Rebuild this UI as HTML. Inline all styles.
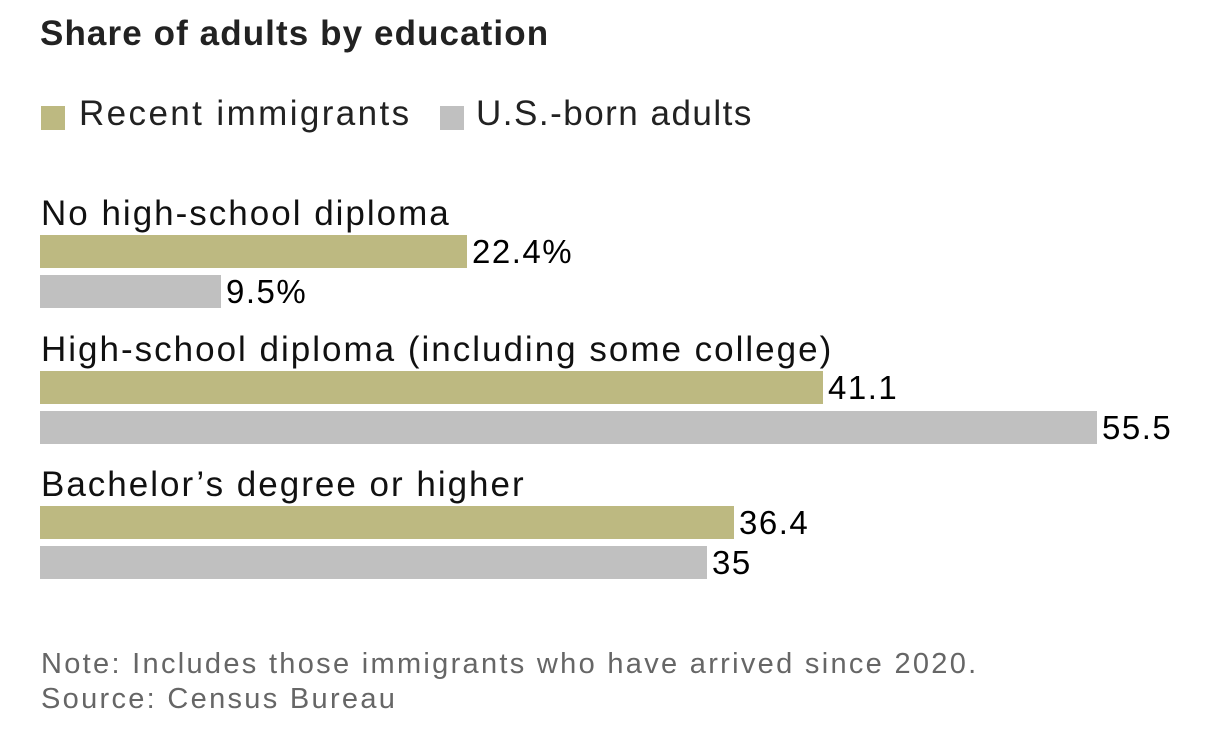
<!DOCTYPE html>
<html><head><meta charset="utf-8"><style>
body{margin:0;width:1210px;height:733px;background:#fff;font-family:"Liberation Sans",sans-serif;position:relative;overflow:hidden}
.a{position:absolute;white-space:nowrap}
.t{left:40px;top:14px;font-size:35px;font-weight:bold;color:#222;letter-spacing:1.1px}
.l{font-size:35px;color:#222;top:94px;letter-spacing:2.4px}
.sw{position:absolute;width:24px;height:24px;top:106px}
.c{font-size:35px;color:#111;left:41px;letter-spacing:2px}
.b{position:absolute;left:40px;height:33px}
.o{background:#bdb981}.g{background:#c0c0c0}
.v{font-size:33px;color:#000;letter-spacing:1.5px}
.n{font-size:29px;color:#666;left:41px;letter-spacing:2.3px}
</style></head><body>
<div class="a t">Share of adults by education</div>
<div class="sw o" style="left:41px"></div><div class="a l" style="left:79px">Recent immigrants</div>
<div class="sw g" style="left:440px"></div><div class="a l" style="left:476px;letter-spacing:1.5px">U.S.-born adults</div>

<div class="a c" style="top:194px">No high-school diploma</div>
<div class="b o" style="top:235px;width:427px"></div><div class="a v" style="left:472px;top:233px">22.4%</div>
<div class="b g" style="top:275px;width:181px"></div><div class="a v" style="left:226px;top:273px">9.5%</div>

<div class="a c" style="top:330px">High-school diploma (including some college)</div>
<div class="b o" style="top:371px;width:783px"></div><div class="a v" style="left:828px;top:369px">41.1</div>
<div class="b g" style="top:411px;width:1057px"></div><div class="a v" style="left:1102px;top:409px">55.5</div>

<div class="a c" style="top:465px">Bachelor’s degree or higher</div>
<div class="b o" style="top:506px;width:694px"></div><div class="a v" style="left:739px;top:504px">36.4</div>
<div class="b g" style="top:546px;width:667px"></div><div class="a v" style="left:712px;top:544px">35</div>

<div class="a n" style="top:648px">Note: Includes those immigrants who have arrived since 2020.</div>
<div class="a n" style="top:683px">Source: Census Bureau</div>
</body></html>
